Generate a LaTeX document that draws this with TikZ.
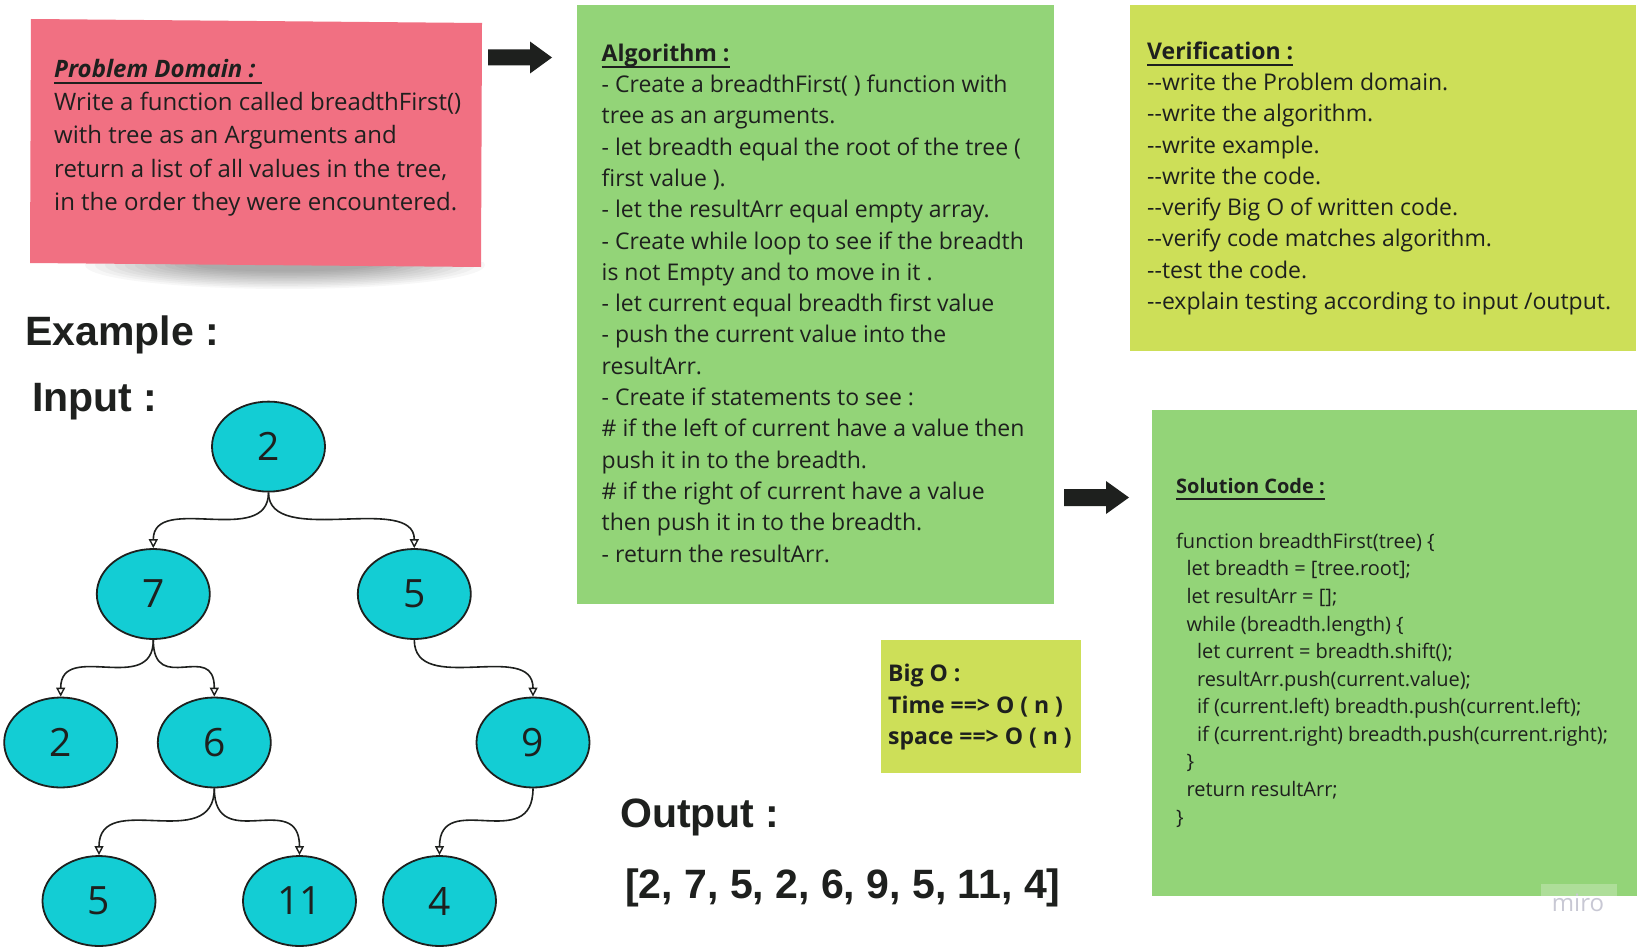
\documentclass[tikz,border=0pt]{standalone}
\usepackage{fontspec}
\setmainfont{Open Sans}
\newfontfamily\arialf{Liberation Sans}
\usetikzlibrary{arrows.meta,shapes.geometric}
\definecolor{pinkc}{RGB}{241,112,130}
\definecolor{greenc}{RGB}{147,212,120}
\definecolor{limec}{RGB}{205,223,88}
\definecolor{cyanc}{RGB}{19,205,212}
\definecolor{inkc}{RGB}{30,32,30}
\definecolor{miroc}{RGB}{200,200,212}
\newcommand\myul[1]{\setbox0=\hbox{#1}\rlap{\rule[-6.5pt]{\wd0}{2pt}}\box0}
\newcommand\ind{\hspace*{10.4pt}}
\tikzset{
  % anchor is the baseline of the LAST line of the block
  txt/.style={anchor=base west, align=left, inner sep=0pt, text=inkc},
  tnode/.style={ellipse, draw=inkc, line width=1.8pt, fill=cyanc, minimum width=113pt,
    minimum height=90pt, inner sep=0pt, font=\fontsize{39}{39}\selectfont, text=inkc},
  tedge/.style={draw=inkc, line width=1.6pt,
    -{Triangle[open, length=9pt, width=9pt, line width=1.4pt]},
    to path={.. controls (\tikztostart |- \tikztotarget) and (\tikztotarget |- \tikztostart) .. (\tikztotarget) \tikztonodes}},
  blockarrow/.style={fill=inkc}
}
\begin{document}
\begin{tikzpicture}[x=1pt,y=-1pt]
\useasboundingbox (0,0) rectangle (1643,950);
\fill[white] (0,0) rectangle (1643,950);

% shadow of the sticky note
\begin{scope}
  \clip (30,262) rectangle (520,300);
  \foreach \k in {0,...,11} {
    \fill[black, opacity=0.03] (285,265) ellipse ({200-\k*10} and {24-\k*1.6});
  }
\end{scope}

% boxes
\fill[pinkc] (31,19) -- (482,23) -- (481,267) -- (30,263) -- cycle;
\fill[greenc] (577,5) rectangle (1054,604);
\fill[limec] (1130,5) rectangle (1636,351);
\fill[greenc] (1152,410) rectangle (1637,896);
\fill[limec] (881,640) rectangle (1081,773);

% block arrows
\fill[blockarrow] (488,49.5) -- (530,49.5) -- (530,41.5) -- (552,57.5) -- (530,73.5) -- (530,65.5) -- (488,65.5) -- cycle;
\fill[blockarrow] (1064,489) -- (1106,489) -- (1106,481) -- (1129,497.5) -- (1106,514) -- (1106,506) -- (1064,506) -- cycle;

% texts
\node[txt, font=\fontsize{24}{33.3}\selectfont] (pd) at (54,210.5)
  {\myul{\bfseries\itshape Problem Domain :\ }\\
   Write a function called breadthFirst()\\
   with tree as an Arguments and\\
   return a list of all values in the tree,\\
   in the order they were encountered.};

\node[txt, font=\fontsize{23}{31.3}\selectfont] (alg) at (601.5,562)
  {\myul{\bfseries Algorithm :}\\
   - Create a breadthFirst( ) function with\\
   tree as an arguments.\\
   - let breadth equal the root of the tree (\\
   first value ).\\
   - let the resultArr equal empty array.\\
   - Create while loop to see if the breadth\\
   is not Empty and to move in it .\\
   - let current equal breadth first value\\
   - push the current value into the\\
   resultArr.\\
   - Create if statements to see :\\
   \# if the left of current have a value then\\
   push it in to the breadth.\\
   \# if the right of current have a value\\
   then push it in to the breadth.\\
   - return the resultArr.};

\node[txt, font=\fontsize{23}{31.3}\selectfont] (ver) at (1147,309.5)
  {\myul{\bfseries Verification :}\\
   -{}-write the Problem domain.\\
   -{}-write the algorithm.\\
   -{}-write example.\\
   -{}-write the code.\\
   -{}-verify Big O of written code.\\
   -{}-verify code matches algorithm.\\
   -{}-test the code.\\
   -{}-explain testing according to input /output.};

\node[txt, font=\bfseries\fontsize{20}{20}\selectfont] (solt) at (1176,493.3)
  {\myul{Solution Code :}};

\node[txt, font=\fontsize{20}{27.57}\selectfont] (code) at (1176,824)
  {function breadthFirst(tree) \{\\
   \ind let breadth = [tree.root];\\
   \ind let resultArr = [];\\
   \ind while (breadth.length) \{\\
   \ind\ind let current = breadth.shift();\\
   \ind\ind resultArr.push(current.value);\\
   \ind\ind if (current.left) breadth.push(current.left);\\
   \ind\ind if (current.right) breadth.push(current.right);\\
   \ind \}\\
   \ind return resultArr;\\
   \}};

\node[txt, font=\bfseries\fontsize{23}{31.6}\selectfont] (bigo) at (888,744.9)
  {Big O :\\Time ==> O ( n )\\space ==> O ( n )};

\node[txt, font=\arialf\bfseries\fontsize{41}{41}\selectfont] (ex) at (25,345) {Example :};
\node[txt, font=\arialf\bfseries\fontsize{41}{41}\selectfont] (inp) at (32,411) {Input :};
\node[txt, font=\arialf\bfseries\fontsize{41}{41}\selectfont] (outp) at (620,827) {Output :};
\node[txt, font=\arialf\bfseries\fontsize{41}{41}\selectfont] (arr) at (625,898) {[2, 7, 5, 2, 6, 9, 5, 11, 4]};

% tree
\node[tnode] (r)  at (268.5,446.6) {2};
\node[tnode] (a)  at (153.3,594) {7};
\node[tnode] (b)  at (414.3,594) {5};
\node[tnode] (c)  at (60.7,742.5) {2};
\node[tnode] (d)  at (214.3,742.5) {6};
\node[tnode] (e)  at (533,742.5) {9};
\node[tnode] (f)  at (99,901) {5};
\node[tnode] (g)  at (299.5,901) {11};
\node[tnode] (h)  at (439.5,901) {4};

\draw[tedge] (r.south) to (a.north);
\draw[tedge] (r.south) to (b.north);
\draw[tedge] (a.south) to (c.north);
\draw[tedge] (a.south) to (d.north);
\draw[tedge] (b.south) to (e.north);
\draw[tedge] (d.south) to (f.north);
\draw[tedge] (d.south) to (g.north);
\draw[tedge] (e.south) to (h.north);

% watermark
\fill[white, opacity=0.25] (1541,884) rectangle (1617,896);
\node[anchor=base, inner sep=0pt, text=miroc, font=\fontsize{24}{24}\selectfont] (miro) at (1578,911.7) {miro};
\end{tikzpicture}
\end{document}
